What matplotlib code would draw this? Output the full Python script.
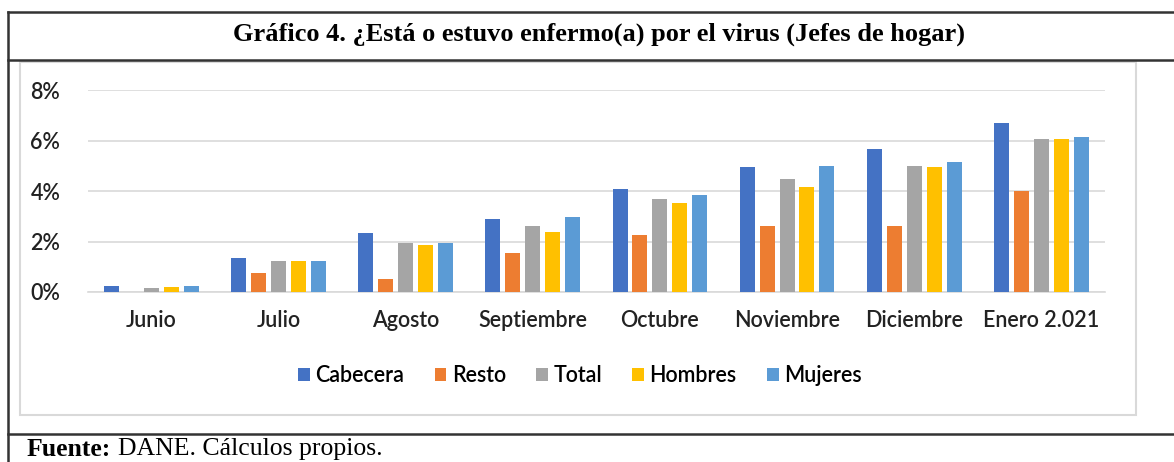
import numpy as np
import matplotlib
matplotlib.use("Agg")
import matplotlib.pyplot as plt
from matplotlib.lines import Line2D
from matplotlib.patches import Rectangle
from matplotlib.ticker import PercentFormatter

meses = ["Junio", "Julio", "Agosto", "Septiembre", "Octubre", "Noviembre", "Diciembre", "Enero 2.021"]
series = ["Cabecera", "Resto", "Total", "Hombres", "Mujeres"]
colores = ["#4472C4", "#ED7D31", "#A5A5A5", "#FFC000", "#5B9BD5"]

# porcentajes
cabecera = [0.25, 1.36, 2.32, 2.88, 4.07, 4.94, 5.65, 6.68]
resto = [0.00, 0.74, 0.50, 1.53, 2.25, 2.63, 2.63, 4.00]
total = [0.17, 1.22, 1.93, 2.63, 3.67, 4.46, 5.00, 6.05]
hombres = [0.18, 1.22, 1.86, 2.39, 3.51, 4.15, 4.94, 6.05]
mujeres = [0.25, 1.22, 1.93, 2.96, 3.83, 5.00, 5.16, 6.13]
valores = [cabecera, resto, total, hombres, mujeres]

fig = plt.figure(figsize=(11.74, 4.62), dpi=100)
ax = fig.add_axes([0.075, 0.368, 0.866, 0.437])

x = np.arange(len(meses))
paso = 0.157
ancho = 0.118
for i, (nombre, vals, col) in enumerate(zip(series, valores, colores)):
    ax.bar(x + (i - 2) * paso, vals, ancho, color=col, label=nombre, zorder=3)

ax.set_xlim(-0.5, len(meses) - 0.5)
ax.set_ylim(0, 8)
ax.set_yticks([0, 2, 4, 6, 8])
ax.yaxis.set_major_formatter(PercentFormatter(decimals=0))
ax.set_xticks(x)
ax.set_xticklabels(meses)
ax.grid(axis="y", color="#d9d9d9", linewidth=1.2, zorder=0)
for s in ["top", "right", "left"]:
    ax.spines[s].set_visible(False)
ax.spines["bottom"].set_color("#d9d9d9")
ax.spines["bottom"].set_linewidth(1.2)
ax.tick_params(length=0, labelsize=15.5, colors="#222222")
ax.tick_params(axis="x", pad=13)
ax.tick_params(axis="y", pad=20)
for t in ax.get_xticklabels() + ax.get_yticklabels():
    t.set_fontfamily("Lato")
    t.set_fontweight("semibold")

leg = fig.legend(loc="center", bbox_to_anchor=(0.494, 0.188), ncol=5, frameon=False,
                 handlelength=0.55, handleheight=0.55, handletextpad=0.25, columnspacing=1.4,
                 prop={"family": "Lato", "weight": "semibold", "size": 15.5})

# marco interior del grafico
fig.add_artist(Rectangle((0.017, 0.102), 0.951, 0.764, transform=fig.transFigure,
                         fill=False, edgecolor="#d9d9d9", linewidth=1.5))

# recuadro exterior
borde = dict(color="#333333", linewidth=1.8, transform=fig.transFigure)
fig.add_artist(Line2D([0.0068, 1], [0.974, 0.974], **borde))
fig.add_artist(Line2D([0.0068, 1], [0.870, 0.870], **borde))
fig.add_artist(Line2D([0.0068, 1], [0.061, 0.061], **borde))
fig.add_artist(Line2D([0.0068, 0.0068], [0.0, 0.974], **borde))

fig.text(0.51, 0.926, "Gráfico 4. ¿Está o estuvo enfermo(a) por el virus (Jefes de hogar)",
         ha="center", va="center", fontsize=19, fontweight="bold", family="Liberation Serif")
fig.text(0.023, 0.028, "Fuente:", ha="left", va="center", fontsize=18.5,
         fontweight="bold", family="Liberation Serif")
fig.text(0.1005, 0.028, "DANE. Cálculos propios.", ha="left", va="center", fontsize=18.5,
         family="Liberation Serif")

fig.savefig("out.png", dpi=100)
